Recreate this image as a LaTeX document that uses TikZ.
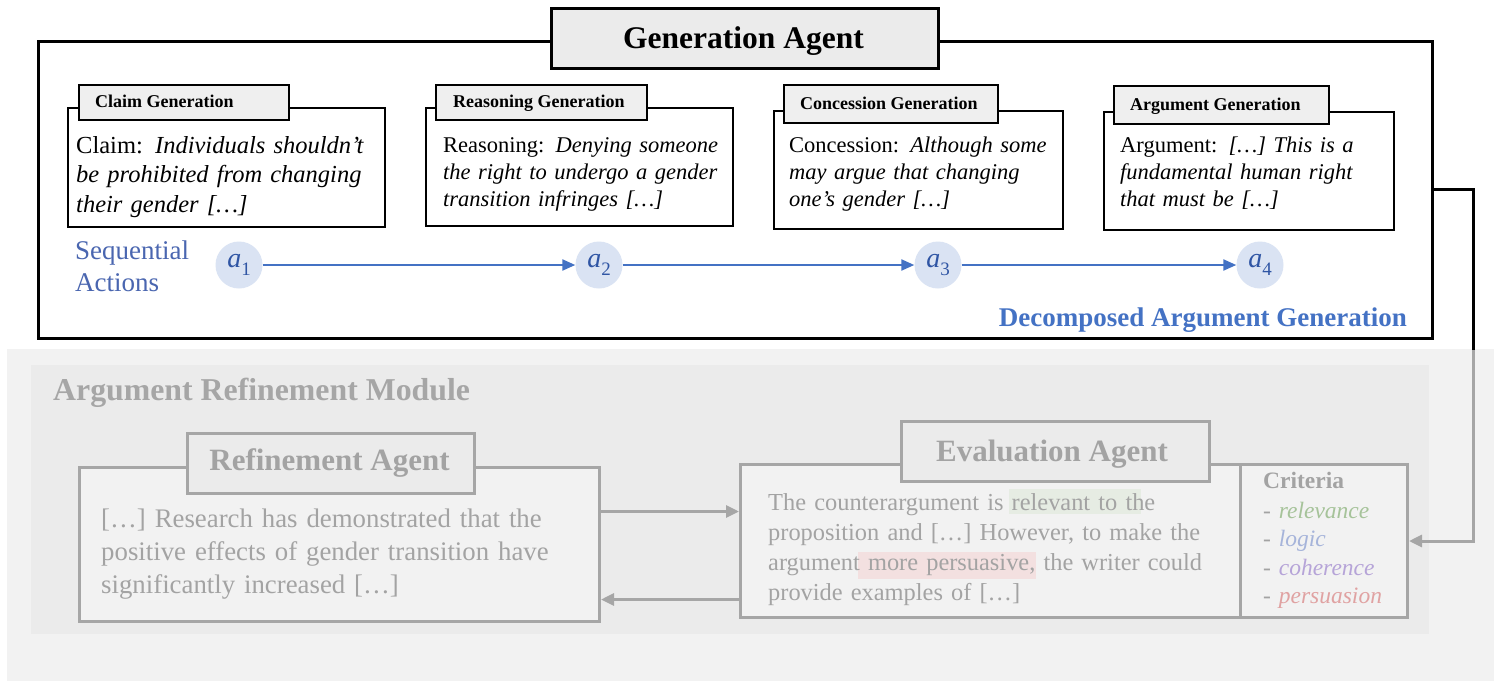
\documentclass[tikz,border=0pt]{standalone}
\usepackage{fontspec}
\setmainfont{Liberation Serif}
\usetikzlibrary{arrows.meta}
\definecolor{tabfill}{HTML}{EFEFEF}
\definecolor{genfill}{HTML}{EBEBEB}
\definecolor{bgout}{HTML}{F2F2F2}
\definecolor{bgin}{HTML}{EBEBEB}
\definecolor{lgray}{HTML}{A6A6A6}
\definecolor{tgray}{HTML}{A3A3A3}
\definecolor{bodyfill}{HTML}{F2F2F2}
\definecolor{seqblue}{HTML}{4A66B0}
\definecolor{decblue}{HTML}{4472C4}
\definecolor{ablue}{HTML}{2F55A4}
\definecolor{afill}{HTML}{DAE3F3}
\definecolor{greenhl}{HTML}{E6ECE3}
\definecolor{pinkhl}{HTML}{F3E0E0}
\definecolor{crgreen}{HTML}{A6C39A}
\definecolor{crblue}{HTML}{A6B4DA}
\definecolor{crpurple}{HTML}{B6A4D8}
\definecolor{crred}{HTML}{E0A2A2}
\newcommand\hlbg[4]{\rlap{\kern#1\setlength\fboxsep{0pt}\colorbox{#2}{#3\phantom{#4}}}}
\newcommand\alabel[1]{\textit{a}\raisebox{-0.28em}{\fontsize{19}{19}\selectfont #1}}
\tikzset{
  genbox/.style={draw=black, line width=2.8pt, inner sep=0pt, anchor=north west},
  gentab/.style={draw=black, line width=2.8pt, fill=genfill, inner sep=0pt, anchor=north west},
  bodybox/.style={draw=black, line width=1.8pt, fill=white, inner sep=0pt, anchor=north west},
  tabbox/.style={draw=black, line width=1.8pt, fill=tabfill, inner sep=0pt, anchor=north west},
  tabtext/.style={anchor=base west, inner sep=0pt, font=\fontsize{18}{20}\selectfont\bfseries},
  bodytext/.style={anchor=base west, inner sep=0pt, text width=330pt, align=left, font=\fontsize{22.5}{27}\selectfont},
  actc/.style={circle, fill=afill, minimum size=47pt, inner sep=0pt, text=ablue, font=\fontsize{28}{28}\selectfont},
  actarrow/.style={draw=decblue, line width=2.2pt, -{Triangle[length=13pt,width=11pt]}},
  gbox/.style={draw=lgray, line width=3pt, fill=bodyfill, inner sep=0pt, anchor=north west},
  gtab/.style={draw=lgray, line width=3pt, fill=bgin, inner sep=0pt, anchor=north west},
  gtitle/.style={anchor=base, inner sep=0pt, text=tgray, font=\fontsize{31}{31}\selectfont\bfseries},
  gtext/.style={anchor=base west, inner sep=0pt, text=tgray, align=left},
  garrow/.style={draw=lgray, line width=3pt, -{Triangle[length=13pt,width=12pt]}},
}
\begin{document}
\begin{tikzpicture}[x=1pt,y=-1pt]
\useasboundingbox (0,0) rectangle (1494,683);
\fill[white] (0,0) rectangle (1494,683);

% ---------- Generation agent ----------
\node[genbox, minimum width=1394pt, minimum height=297pt] (gen) at (37,40) {};
\node[gentab, minimum width=387pt, minimum height=60pt] (gtab) at (550,7) {};
\node[anchor=base, inner sep=0pt, font=\fontsize{31.5}{32}\selectfont\bfseries] (gtitle) at (743.5,48) {Generation Agent};

% Claim
\node[bodybox, minimum width=317pt, minimum height=119pt] (cb) at (67,107) {};
\node[tabbox, minimum width=210pt, minimum height=35pt] (ct) at (78,84) {};
\node[tabtext] (ctt) at (95,107) {Claim Generation};
\node[bodytext, font=\fontsize{24.5}{29.5}\selectfont] (cx) at (76,153)
  {Claim: \textit{Individuals shouldn’t}\\\textit{be prohibited from changing}\\\textit{their gender […]}};

% Reasoning
\node[bodybox, minimum width=307pt, minimum height=118pt] (rb) at (425,107) {};
\node[tabbox, minimum width=211pt, minimum height=35pt] (rt) at (435,84) {};
\node[tabtext] (rtt) at (453,107) {Reasoning Generation};
\node[bodytext] (rx) at (443,152)
  {Reasoning: \textit{Denying someone}\\\textit{the right to undergo a gender}\\\textit{transition infringes […]}};

% Concession
\node[bodybox, minimum width=289pt, minimum height=118pt] (nb) at (773,110) {};
\node[tabbox, minimum width=214pt, minimum height=38pt] (nt) at (783,84) {};
\node[tabtext] (ntt) at (800,109) {Concession Generation};
\node[bodytext] (nx) at (789,152)
  {Concession: \textit{Although some}\\\textit{may argue that changing}\\\textit{one’s gender […]}};

% Argument
\node[bodybox, minimum width=290pt, minimum height=118pt] (ab) at (1103,111) {};
\node[tabbox, minimum width=215pt, minimum height=38pt] (at) at (1113,85) {};
\node[tabtext] (att) at (1130,110) {Argument Generation};
\node[bodytext] (ax) at (1120,152)
  {Argument: \textit{[…] This is a}\\\textit{fundamental human right}\\\textit{that must be […]}};

% Sequential actions
\node[anchor=base west, inner sep=0pt, text width=150pt, align=left, text=seqblue,
      font=\fontsize{27}{32}\selectfont] (seq) at (75,259) {Sequential\\Actions};
\node[actc] (a1) at (239,265) {\alabel{1}};
\node[actc] (a2) at (599,265) {\alabel{2}};
\node[actc] (a3) at (938,265) {\alabel{3}};
\node[actc] (a4) at (1260,265) {\alabel{4}};
\draw[actarrow] (a1) -- (a2);
\draw[actarrow] (a2) -- (a3);
\draw[actarrow] (a3) -- (a4);
\node[anchor=base east, inner sep=0pt, text=decblue, font=\fontsize{27}{27}\selectfont\bfseries]
  (dec) at (1407,326) {Decomposed Argument Generation};

% ---------- Argument refinement module ----------
\fill[bgout] (7,349) rectangle (1494,681);
\fill[bgin] (31,365) rectangle (1429,634);
\node[anchor=base west, inner sep=0pt, text=lgray, font=\fontsize{31.8}{31.8}\selectfont\bfseries]
  (arm) at (53,400) {Argument Refinement Module};

% Refinement agent
\node[gbox, minimum width=520pt, minimum height=154pt] (refb) at (78,466) {};
\node[gtab, minimum width=287pt, minimum height=60pt] (reft) at (186,432) {};
\node[gtitle] (reftt) at (329.5,470) {Refinement Agent};
\node[gtext, text width=480pt, font=\fontsize{26.8}{33}\selectfont] (refx) at (101,527)
  {[…] Research has demonstrated that the\\positive effects of gender transition have\\significantly increased […]};

% Evaluation agent
\node[gbox, minimum width=500pt, minimum height=153pt] (evb) at (739,463) {};
\node[gbox, minimum width=167pt, minimum height=153pt] (crit) at (1239,463) {};
\node[gtab, minimum width=308pt, minimum height=60pt] (evt) at (900,420) {};
\node[gtitle] (evtt) at (1052,461) {Evaluation Agent};
\node[gtext, text width=480pt, font=\fontsize{24.4}{30}\selectfont] (evx) at (768,510)
  {The counterargument is \hlbg{-3pt}{greenhl}{\rule[-4pt]{0pt}{25pt}}{relevant to th}relevant to the\\
   proposition and […] However, to make the\\
   argumen\hlbg{5pt}{pinkhl}{\rule[-9pt]{0pt}{27pt}}{ more persuasive,\kern2pt}t more persuasive, the writer could\\
   provide examples of […]};
\node[gtext, font=\fontsize{23.5}{23.5}\selectfont\bfseries] (critt) at (1263,488) {Criteria};
\node[gtext, text width=160pt, font=\fontsize{23.5}{28.5}\selectfont] (critx) at (1263,518)
  {- \textcolor{crgreen}{\textit{relevance}}\\- \textcolor{crblue}{\textit{logic}}\\- \textcolor{crpurple}{\textit{coherence}}\\- \textcolor{crred}{\textit{persuasion}}};

% arrows between agents
\draw[garrow] ([yshift=33pt]refb.east) -- ([yshift=33pt]refb.east -| evb.west);
\draw[garrow] ([yshift=-58.5pt]evb.west) -- ([yshift=-58.5pt]evb.west -| refb.east);

% connector from generation agent to criteria
\draw[garrow] (gen.east) -- ++(40,0) |- (crit.east);
\begin{scope}
  \clip (0,0) rectangle (1494,349);
  \draw[black, line width=3pt] (gen.east) -- ++(40,0) |- (crit.east);
\end{scope}
\end{tikzpicture}
\end{document}
